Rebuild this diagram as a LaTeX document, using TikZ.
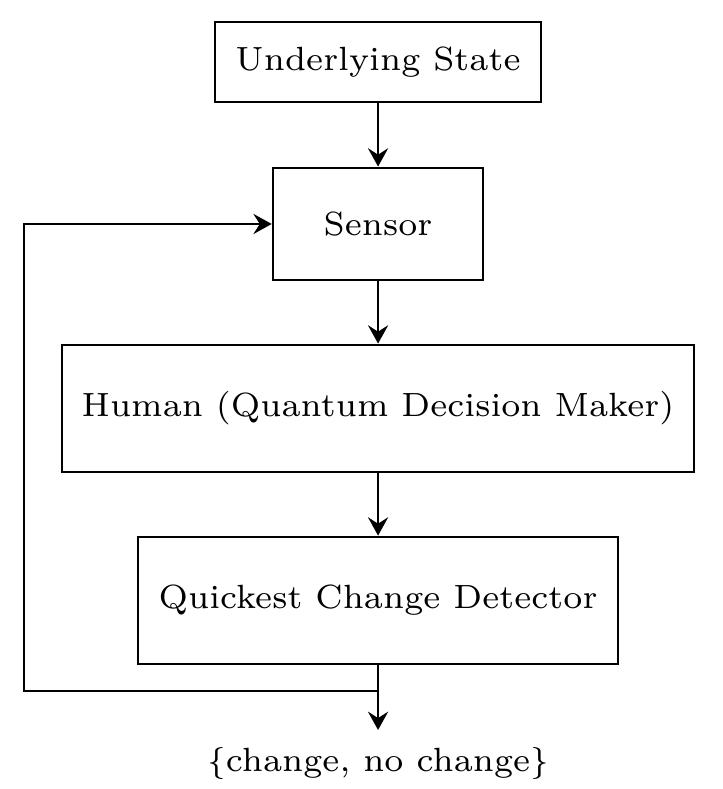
\documentclass[tikz,border=0pt]{standalone}
\usepackage{tikz}
\usepackage{amsmath}
\usetikzlibrary{arrows.meta,calc}
\tikzstyle{blk}=[rectangle,draw=black,line width=0.6pt,fill=white,
  inner sep=2pt,font=\fontsize{7.35}{9}\selectfont]
\tikzstyle{flow}=[-{Stealth[length=4pt,width=4.4pt,inset=1.4pt]},line width=0.6pt]

\begin{document}
\begin{tikzpicture}
        \useasboundingbox (-2.908,0) rectangle (2.646,-6.069);
        \node[style=blk,minimum width=2.508cm,minimum height=0.615cm] (state) at (0,-0.477) {Underlying State};
        \node[style=blk,minimum width=1.615cm,minimum height=0.862cm] (sensor) at (0,-1.723) {Sensor};
        \node[style=blk,minimum width=4.862cm,minimum height=0.977cm] (human) at (0,-3.142) {Human (Quantum Decision Maker)};
        \node[style=blk,minimum width=3.692cm,minimum height=0.977cm] (qcd) at (0,-4.619) {Quickest Change Detector};
        \node[font=\fontsize{7.35}{9}\selectfont] (out) at (0,-5.869) {\(\{\)change, no change\(\}\)};
        \coordinate (split) at (0,-5.315);
        \coordinate (tip) at (0,-5.615);
        \coordinate (corner) at (-2.723,-5.315);
        \draw[style=flow] (state) to (sensor);
        \draw[style=flow] (sensor) to (human);
        \draw[style=flow] (human) to (qcd);
        \draw[style=flow] (qcd) to (tip);
        \draw[style=flow] (split) -- (corner) |- (sensor.west);
    \end{tikzpicture}
\end{document}
